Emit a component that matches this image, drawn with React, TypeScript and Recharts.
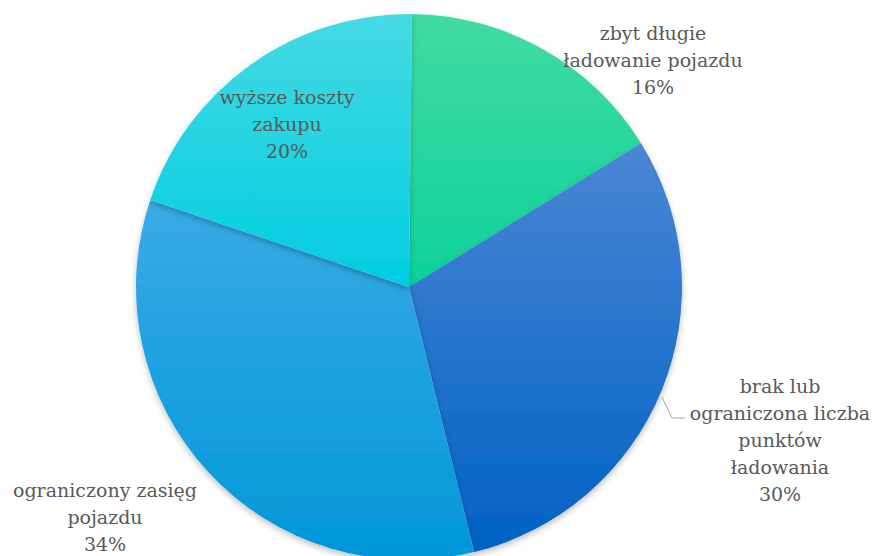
import React from 'react';
import { PieChart, Pie, Cell } from 'recharts';

const categories = [
  'zbyt długie ładowanie pojazdu',
  'brak lub ograniczona liczba punktów ładowania',
  'ograniczony zasięg pojazdu',
  'wyższe koszty zakupu',
];
const values = [16, 30, 34, 20];
const labelLines = [
  ['zbyt długie', 'ładowanie pojazdu'],
  ['brak lub', 'ograniczona liczba', 'punktów', 'ładowania'],
  ['ograniczony zasięg', 'pojazdu'],
  ['wyższe koszty', 'zakupu'],
];

const data = categories.map((name, i) => ({ name, value: values[i] }));

const gradients = [
  ['#42dba2', '#0cd29a'],
  ['#4a86d4', '#0062c4'],
  ['#3aabe6', '#0097d8'],
  ['#45dae4', '#00cde0'],
];

// label block centre offsets relative to pie centre
const labelOffsets = [
  [244, -227],
  [371, 153],
  [-304, 230],
  [-122, -163],
];

const LINE_H = 27;

const renderLabel = (props: any) => {
  const { cx, cy, index, value } = props;
  const lines = [...labelLines[index], `${value}%`];
  const [ox, oy] = labelOffsets[index];
  const x = cx + ox;
  const top = cy + oy - ((lines.length - 1) * LINE_H) / 2;
  return (
    <g key={`lbl-${index}`}>
      {index === 1 && (
        <polyline
          points={`${cx + 253},${cy + 110} ${cx + 263},${cy + 131} ${cx + 276},${cy + 131}`}
          fill="none"
          stroke="#a6a6a6"
          strokeWidth={1}
        />
      )}
      <text
        x={x}
        y={top}
        textAnchor="middle"
        fill="#595959"
        fontFamily="'DejaVu Serif', serif"
        fontSize={19}
      >
        {lines.map((l, i) => (
          <tspan key={i} x={x} y={top + i * LINE_H} dy="0.35em">
            {l}
          </tspan>
        ))}
      </text>
    </g>
  );
};

export default function App() {
  return (
    <div style={{ position: 'absolute', left: 0, top: 0, width: 876, height: 556, background: '#fff' }}>
      <PieChart width={876} height={556} margin={{ top: 0, right: 0, bottom: 0, left: 0 }}>
        <defs>
          {gradients.map((g, i) => (
            <linearGradient key={i} id={`grad${i}`} x1="0" y1="0" x2="0" y2="1">
              <stop offset="0%" stopColor={g[0]} />
              <stop offset="100%" stopColor={g[1]} />
            </linearGradient>
          ))}
          <filter id="shadow" x="-10%" y="-10%" width="120%" height="120%">
            <feDropShadow dx="0" dy="3" stdDeviation="3" floodColor="#000" floodOpacity="0.25" />
          </filter>
        </defs>
        <Pie
          data={data}
          dataKey="value"
          nameKey="name"
          cx={409}
          cy={287}
          outerRadius={273}
          startAngle={89.4}
          endAngle={-270.6}
          stroke="none"
          isAnimationActive={false}
          label={renderLabel}
          labelLine={false}
          style={{ filter: 'url(#shadow)' }}
        >
          {data.map((_, i) => (
            <Cell key={i} fill={`url(#grad${i})`} />
          ))}
        </Pie>
      </PieChart>
    </div>
  );
}
